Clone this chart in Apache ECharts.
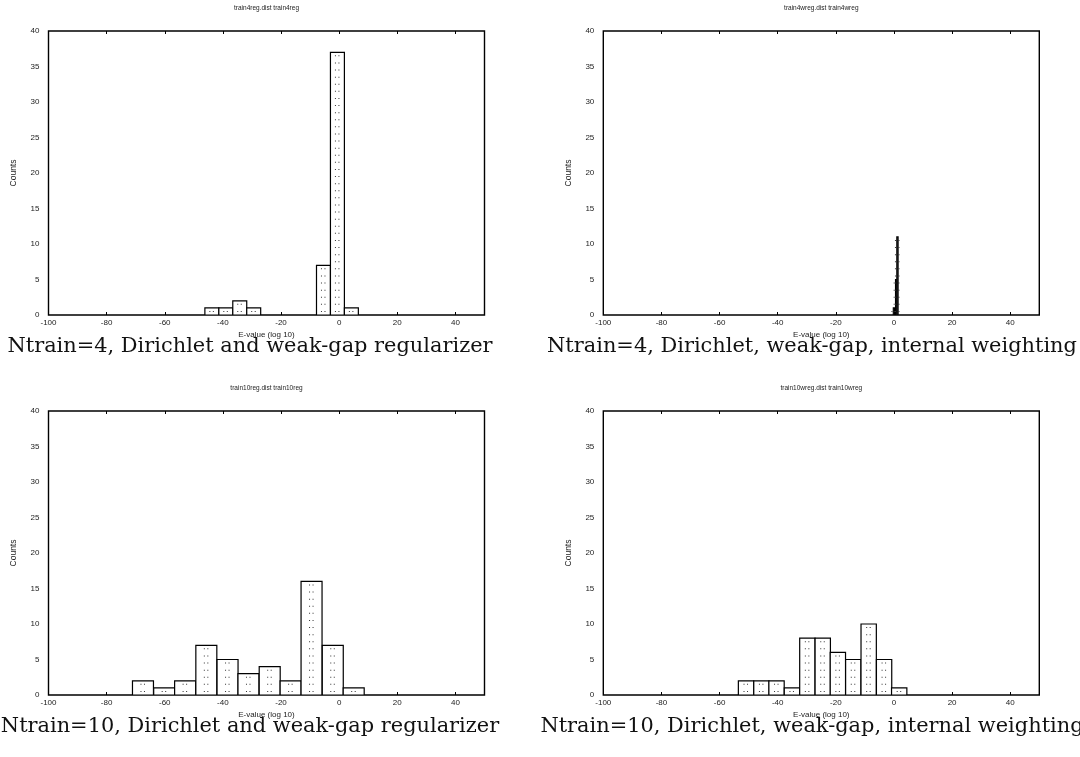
<!DOCTYPE html>
<html>
<head>
<meta charset="utf-8">
<script src="https://cdn.jsdelivr.net/npm/echarts@6/dist/echarts.min.js"></script>
<style>
  html, body { margin: 0; padding: 0; background: #fff; }
  #chart { width: 1080px; height: 757px; }
</style>
</head>
<body>
<div id="chart"></div>
<script>
// Histograms of E-value (log 10): bin centres, counts and bin width per run
const xTicks = [-100, -80, -60, -40, -20, 0, 20, 40];
const yTicks = [0, 5, 10, 15, 20, 25, 30, 35, 40];

const reg4Centers = [-43.8, -39.0, -34.2, -29.4, -5.4, -0.6, 4.2];
const reg4Counts  = [1, 1, 2, 1, 7, 37, 1];
const reg4Width   = 4.8;

const wreg4Centers = [0.0, 0.76, 1.2];
const wreg4Counts  = [1, 5, 11];
const wreg4Width   = 0.44;

const reg10Centers = [-67.5, -60.2, -53.0, -45.7, -38.4, -31.2, -23.9, -16.7, -9.5, -2.2, 5.0];
const reg10Counts  = [2, 1, 2, 7, 5, 3, 4, 2, 16, 7, 1];
const reg10Width   = 7.22;

const wreg10Centers = [-50.9, -45.6, -40.4, -35.1, -29.8, -24.5, -19.3, -14.0, -8.7, -3.4, 1.8];
const wreg10Counts  = [2, 2, 2, 1, 8, 8, 6, 5, 10, 5, 1];
const wreg10Width   = 5.27;

const plotTitles = [
  'train4reg.dist train4reg',
  'train4wreg.dist train4wreg',
  'train10reg.dist train10reg',
  'train10wreg.dist train10wreg'
];
const captions = [
  'Ntrain=4, Dirichlet and weak-gap regularizer',
  'Ntrain=4, Dirichlet, weak-gap, internal weighting',
  'Ntrain=10, Dirichlet and weak-gap regularizer',
  'Ntrain=10, Dirichlet, weak-gap, internal weighting'
];
const xName = 'E-value (log 10)';
const yName = 'Counts';

const panels = [
  { centers: reg4Centers, counts: reg4Counts, width: reg4Width },
  { centers: wreg4Centers, counts: wreg4Counts, width: wreg4Width },
  { centers: reg10Centers, counts: reg10Counts, width: reg10Width },
  { centers: wreg10Centers, counts: wreg10Counts, width: wreg10Width }
];

// layout of the four plot frames and their captions
const frames = [
  { left: 48.5, top: 31, capX: 250, capY: 347 },
  { left: 603.3, top: 31, capX: 812, capY: 347 },
  { left: 48.5, top: 411, capX: 250, capY: 727 },
  { left: 603.3, top: 411, capX: 812, capY: 727 }
];
const frameW = 436, frameH = 284;

const sans = 'Liberation Sans, Arial, Helvetica, sans-serif';
const serif = 'DejaVu Serif, serif';
const textCol = '#222';

const grid = [], xAxis = [], yAxis = [], series = [], title = [], graphic = [];

frames.forEach((f, i) => {
  grid.push({
    left: f.left, top: f.top, width: frameW, height: frameH,
    show: true, borderColor: '#000', borderWidth: 1.4, backgroundColor: 'transparent'
  });
  // bottom axis with labels
  xAxis.push({
    type: 'value', gridIndex: i, min: xTicks[0], max: 50, interval: 20,
    position: 'bottom',
    name: xName, nameLocation: 'middle', nameGap: 16,
    nameTextStyle: { fontFamily: sans, fontSize: 8, color: textCol },
    axisLine: { show: false },
    axisTick: { show: true, inside: true, length: 3, lineStyle: { color: '#000', width: 1 } },
    axisLabel: { fontFamily: sans, fontSize: 8, color: textCol, margin: 4, showMaxLabel: false,
      formatter: v => (xTicks.indexOf(v) >= 0 ? String(v) : '') },
    splitLine: { show: false }
  });
  // mirrored ticks along the top edge
  xAxis.push({
    type: 'value', gridIndex: i, min: xTicks[0], max: 50, interval: 20,
    position: 'top',
    axisLine: { show: false },
    axisTick: { show: true, inside: true, length: 3, lineStyle: { color: '#000', width: 1 } },
    axisLabel: { show: false },
    splitLine: { show: false }
  });
  yAxis.push({
    type: 'value', gridIndex: i, min: yTicks[0], max: yTicks[yTicks.length - 1], interval: 5,
    name: yName, nameLocation: 'middle', nameGap: 30, nameRotate: 90,
    nameTextStyle: { fontFamily: sans, fontSize: 8.5, color: textCol },
    axisLine: { show: false },
    axisTick: { show: false },
    axisLabel: { fontFamily: sans, fontSize: 8, color: textCol, margin: 9 },
    splitLine: { show: false }
  });

  const p = panels[i];
  const data = p.centers.map((c, k) => [c, p.counts[k], p.width]);
  series.push({
    type: 'custom',
    xAxisIndex: i * 2, yAxisIndex: i,
    clip: true,
    data: data,
    renderItem: (params, api) => {
      const c = api.value(0), n = api.value(1), w = api.value(2);
      const tl = api.coord([c - w / 2, n]);
      const br = api.coord([c + w / 2, 0]);
      const children = [{
        type: 'rect',
        shape: { x: tl[0], y: tl[1], width: br[0] - tl[0], height: br[1] - tl[1] },
        style: { fill: '#fff', stroke: '#000', lineWidth: 1.2 }
      }];
      // dotted fill: one row of two dots per count
      const cx = (tl[0] + br[0]) / 2;
      for (let k = 0; k < n; k++) {
        const y = api.coord([c, k + 0.5])[1];
        [-2, 1.5].forEach(dx => {
          children.push({
            type: 'rect',
            shape: { x: cx + dx - 0.5, y: y - 0.5, width: 1, height: 1 },
            style: { fill: '#333' }
          });
        });
      }
      return { type: 'group', children: children };
    }
  });

  title.push({
    text: plotTitles[i],
    left: f.left + frameW / 2, top: f.top - 26, textAlign: 'center', padding: 0,
    textStyle: { fontFamily: sans, fontSize: 6.5, fontWeight: 'normal', color: textCol }
  });
  // caption under each plot, widened slightly like a TeX roman face
  graphic.push({
    type: 'text',
    x: f.capX, y: f.capY,
    scaleX: 1.045,
    style: {
      text: captions[i], font: '20px ' + serif, fill: '#111',
      textAlign: 'center', textVerticalAlign: 'middle'
    }
  });
});

const chart = echarts.init(document.getElementById('chart'), null, { renderer: 'canvas' });
chart.setOption({
  backgroundColor: '#fff',
  animation: false,
  title: title,
  grid: grid,
  xAxis: xAxis,
  yAxis: yAxis,
  series: series,
  graphic: graphic
});
</script>
</body>
</html>
